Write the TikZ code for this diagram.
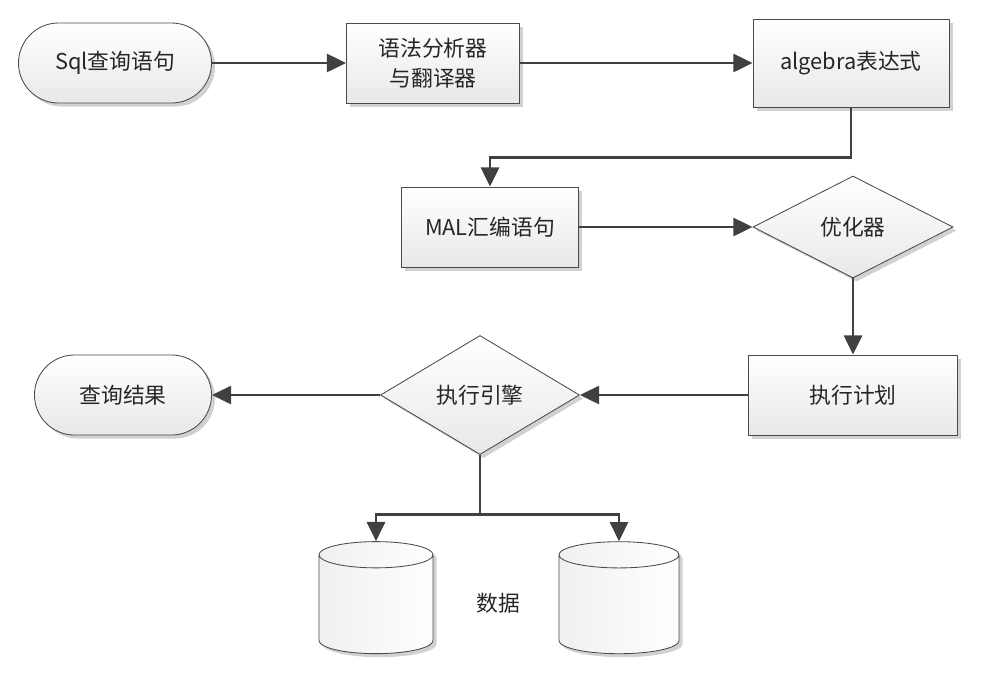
\documentclass[tikz,border=0pt]{standalone}
\usepackage{fontspec}
\setmainfont{Noto Sans CJK SC}
\usetikzlibrary{shapes.geometric, shapes.misc, arrows.meta, shadows, positioning}

\definecolor{linegray}{HTML}{404040}
\definecolor{edgegray}{HTML}{4A4A4A}

\begin{document}
\begin{tikzpicture}[x=0.025cm, y=-0.025cm,
	every node/.style={font=\fontsize{15.5}{21}\selectfont, text=black!85},
	boxbase/.style={draw=edgegray, line width=0.6pt, top color=white, bottom color=black!9,
		drop shadow={shadow xshift=2.5pt, shadow yshift=-2.5pt, opacity=0.18, fill=black}},
	terminal/.style={boxbase, rectangle, rounded corners=1cm, minimum height=2cm},
	process/.style={boxbase, rectangle, minimum height=2cm, align=center},
	decision/.style={boxbase, diamond, aspect=2, inner sep=0pt},
	database/.style={boxbase, cylinder, shape border rotate=90, aspect=2.8,
		left color=black!6, right color=white, minimum height=2.8cm},
	flow/.style={-{Triangle[length=0.48cm, width=0.45cm]}, line width=2.1pt, draw=linegray}]
	%\draw[help lines] (0,0) grid[step=1cm] (992,687);
	\useasboundingbox (0,0) rectangle (992,687);

	\node (sql) [terminal, minimum width=4.825cm] at (115,63) {Sql查询语句};
	\node (parser) [process, minimum width=4.325cm] at (433,63) {语法分析器\\与翻译器};
	\node (algebra) [process, minimum width=4.9cm, minimum height=2.2cm] at (851,63) {algebra表达式};
	\node (mal) [process, minimum width=4.425cm] at (490,227) {MAL汇编语句};
	\node (optimizer) [decision, minimum width=5cm, minimum height=2.55cm] at (853,227) {优化器};
	\node (plan) [process, minimum width=5.225cm] at (853,395) {执行计划};
	\node (engine) [decision, minimum width=4.975cm, minimum height=2.975cm] at (480,395) {执行引擎};
	\node (result) [terminal, minimum width=4.425cm] at (123,395) {查询结果};
	\node (dbleft) [database, minimum width=2.85cm] at (376,607) {};
	\node (dbright) [database, minimum width=3cm] at (619,607) {};
	\node (data) at (498,603) {数据};

	\draw [flow] (sql) -- (parser);
	\draw [flow] (parser) -- (algebra);
	\draw [flow] (algebra.south) -- ++(0,50) -| (mal.north);
	\draw [flow] (mal) -- (optimizer);
	\draw [flow] (optimizer.south) -- (plan.north);
	\draw [flow] (plan) -- (engine);
	\draw [flow] (engine) -- (result);
	\draw [flow] (engine.south) -- ++(0,60) -| (dbleft.north);
	\draw [flow] (engine.south) -- ++(0,60) -| (dbright.north);
\end{tikzpicture}
\end{document}
